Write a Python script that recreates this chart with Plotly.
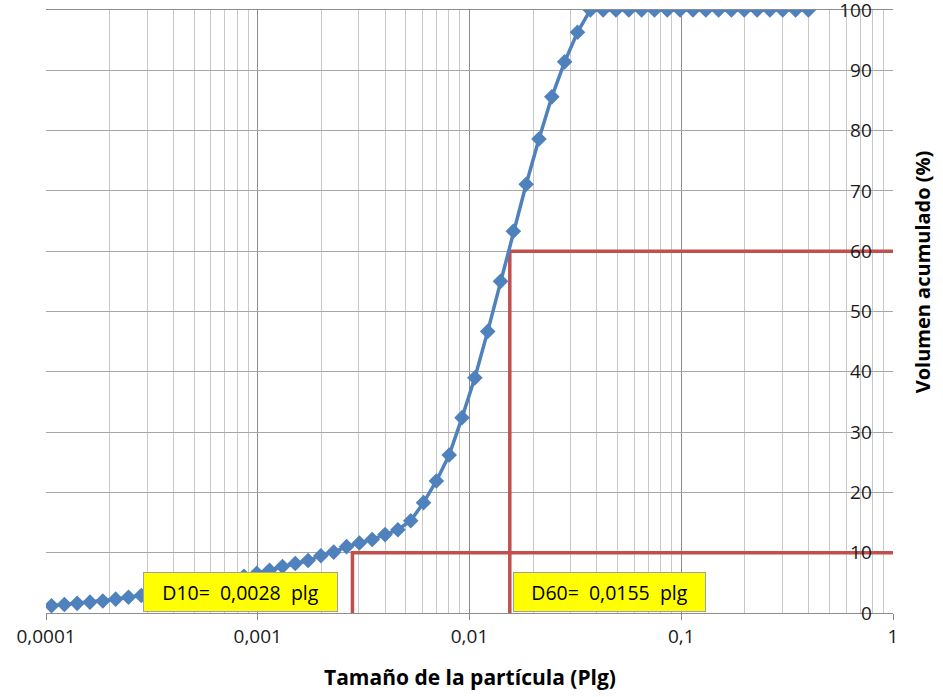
import plotly.graph_objects as go

# particle size (in) and cumulative volume (%)
size_in = [
    0.0001062, 0.0001221, 0.0001403, 0.0001613, 0.0001855, 0.0002133, 0.0002452, 0.0002819,
    0.0003241, 0.0003726, 0.0004284, 0.0004925, 0.0005662, 0.0006510, 0.0007485, 0.0008605,
    0.0009893, 0.001137, 0.001308, 0.001504, 0.001729, 0.001987, 0.002285, 0.002627,
    0.003020, 0.003472, 0.003992, 0.004590, 0.005277, 0.006067, 0.006975, 0.008019,
    0.009219, 0.01060, 0.01219, 0.01401, 0.01611, 0.01852, 0.02129, 0.02448,
    0.02814, 0.03236, 0.03720, 0.04277, 0.04917, 0.05653, 0.06500, 0.07473,
    0.08591, 0.09877, 0.1136, 0.1306, 0.1501, 0.1726, 0.1984, 0.2281,
    0.2623, 0.3015, 0.3467, 0.3986,
]
vol_pct = [
    1.2, 1.4, 1.6, 1.8, 2.0, 2.3, 2.6, 2.9,
    3.2, 3.5, 3.8, 4.2, 4.6, 5.0, 5.5, 6.1,
    6.6, 7.1, 7.7, 8.2, 8.7, 9.5, 10.1, 11.0,
    11.6, 12.2, 13.0, 13.8, 15.3, 18.3, 21.9, 26.2,
    32.4, 39.0, 46.7, 55.0, 63.3, 71.1, 78.6, 85.6,
    91.4, 96.3, 100, 100, 100, 100, 100, 100,
    100, 100, 100, 100, 100, 100, 100, 100,
    100, 100, 100, 100,
]

D10 = 0.0028
D60 = 0.0155
d10_label = "D10=\u00a0 0,0028\u00a0 plg"
d60_label = "D60=\u00a0 0,0155\u00a0 plg"

x_tickvals = [0.0001, 0.001, 0.01, 0.1, 1]
x_ticktext = ["0,0001", "0,001", "0,01", "0,1", "1"]
y_tickvals = [0, 10, 20, 30, 40, 50, 60, 70, 80, 90, 100]

x_title = "Tamaño de la partícula (Plg)"
y_title = "Volumen acumulado (%)"

minor_vals = [m * d for d in [0.0001, 0.001, 0.01, 0.1] for m in range(2, 10)]

FONT = "'Open Sans', Lato, sans-serif"
RED = "#C0504D"
BLUE = "#4F81BD"

fig = go.Figure()

fig.add_trace(go.Scatter(x=[D10, D10, 1], y=[0, 10, 10], mode="lines",
                         line=dict(color=RED, width=3.5), showlegend=False, hoverinfo="skip"))
fig.add_trace(go.Scatter(x=[D60, D60, 1], y=[0, 60, 60], mode="lines",
                         line=dict(color=RED, width=3.5), showlegend=False, hoverinfo="skip"))
fig.add_trace(go.Scatter(x=size_in, y=vol_pct, mode="lines+markers",
                         line=dict(color=BLUE, width=3.5),
                         marker=dict(symbol="diamond", size=12, color=BLUE),
                         showlegend=False))

fig.update_layout(
    width=943, height=697,
    margin=dict(l=46, r=50, t=10, b=84, autoexpand=False),
    paper_bgcolor="white", plot_bgcolor="white",
    font=dict(family=FONT, size=18, color="#000000"),
    xaxis=dict(
        type="log", range=[-4, 0], automargin=False,
        tickmode="array", tickvals=x_tickvals, ticktext=x_ticktext,
        showgrid=True, gridcolor="#8C8C8C", gridwidth=1,
        ticks="outside", ticklen=6, tickcolor="#8C8C8C",
        showline=True, linecolor="#8C8C8C", linewidth=1, mirror=True,
        zeroline=False, ticklabeloverflow="allow",
        tickfont=dict(family=FONT, size=19, color="#1a1a1a"),
        minor=dict(tickmode="array", tickvals=minor_vals, showgrid=True,
                   gridcolor="#C8C8C8", gridwidth=1, ticks=""),
    ),
    yaxis=dict(
        range=[0, 100], tickmode="array", tickvals=y_tickvals, automargin=False,
        side="left", anchor="free", position=0.975,
        showgrid=True, gridcolor="#A6A6A6", gridwidth=1,
        ticks="", showline=False, zeroline=False, ticklabeloverflow="allow",
        tickfont=dict(family=FONT, size=19, color="#1a1a1a"),
    ),
    annotations=[
        dict(x=0.5, y=0, xref="paper", yref="paper", yshift=-64,
             text="<b>" + x_title + "</b>", showarrow=False,
             xanchor="center", yanchor="middle",
             font=dict(family=FONT, size=21, color="#000000")),
        dict(x=1, y=0.565, xref="paper", yref="paper", xshift=29,
             text="<b>" + y_title + "</b>", showarrow=False, textangle=-90,
             xanchor="center", yanchor="middle",
             font=dict(family=FONT, size=20, color="#000000")),
        dict(x=-2.5528, y=0, xref="x", yref="y", xshift=-14, yshift=1,
             text=d10_label, showarrow=False, xanchor="right", yanchor="bottom",
             width=191, height=36, bgcolor="#FFFF00", bordercolor="#A0A0A0",
             borderwidth=1, borderpad=1,
             font=dict(family=FONT, size=19.5, color="#000000")),
        dict(x=-1.8097, y=0, xref="x", yref="y", xshift=3, yshift=1,
             text=d60_label, showarrow=False, xanchor="left", yanchor="bottom",
             width=189, height=36, bgcolor="#FFFF00", bordercolor="#A0A0A0",
             borderwidth=1, borderpad=1,
             font=dict(family=FONT, size=19.5, color="#000000")),
    ],
)

fig.write_html("out.html",
               config={"displayModeBar": False},
               post_script="document.body.style.margin='0';document.body.style.overflow='hidden';")
